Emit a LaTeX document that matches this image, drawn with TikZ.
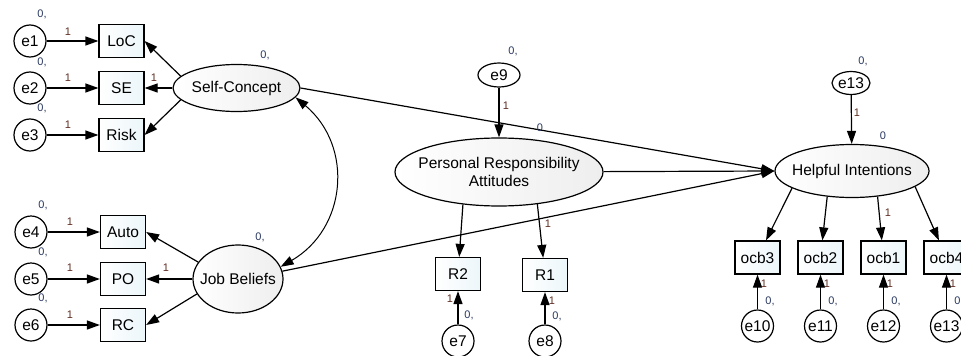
\documentclass[tikz,border=0pt]{standalone}
\usepackage{fontspec}
\setmainfont{Liberation Sans}
\usetikzlibrary{positioning}
\usetikzlibrary{arrows.meta,shapes.geometric}
\definecolor{amosBlue}{RGB}{40,55,95}
\definecolor{amosRed} {RGB}{95,45,35}
\definecolor{amosBox} {RGB}{236,246,250}
\definecolor{amosLat} {RGB}{238,238,238}

\begin{document}
\begin{tikzpicture}
[x=1pt, y=-1pt, line width=1.2pt, >={Triangle[length=13pt,width=9pt]},
  font=\fontsize{15.5}{18}\selectfont,
  latent/.style   = { draw, ellipse, inner sep=0pt, left color=white, right color=amosLat },
  observed/.style = { draw, rectangle, minimum width=45pt, minimum height=33pt, inner sep=0pt,
                      left color=white, right color=amosBox },
  err/.style      = { draw, circle, minimum size=32pt, inner sep=0pt, fill=white },
  errtop/.style   = { draw, ellipse, inner sep=0pt, fill=white },
  mean/.style     = { text=amosBlue, font=\fontsize{11}{12}\selectfont, inner sep=0pt },
  weight/.style   = { text=amosRed, font=\fontsize{11}{12}\selectfont, inner sep=0pt }
]

\useasboundingbox (0,0) rectangle (961,356);

% Latent variables:
\node[latent, minimum width=127pt, minimum height=47pt] (sc)  at (236.5,88) {\makebox[0pt]{Self-Concept}};
\node[latent, minimum width=90pt,  minimum height=68pt] (jb)  at (238,279)  {\makebox[0pt]{Job Beliefs}};
\node[latent, minimum width=208pt, minimum height=68pt, align=center] (pra) at (499,172)
  {\makebox[0pt]{Personal Responsibility}\\\makebox[0pt]{Attitudes}};
\node[latent, minimum width=154pt, minimum height=53pt] (hi)  at (852,171)  {\makebox[0pt]{Helpful Intentions}};

% Indicators:
\node[observed] (loc)  at (121.5,41)  {LoC};
\node[observed] (se)   at (121.5,88)  {SE};
\node[observed] (risk) at (121.5,135) {Risk};
\node[observed] (auto) at (123,232)   {Auto};
\node[observed] (po)   at (123,279)   {PO};
\node[observed] (rc)   at (123,325)   {RC};
\node[observed] (r2)   at (458,274)   {R2};
\node[observed] (r1)   at (545,275)   {R1};
\node[observed] (ocb3) at (757.5,257.5) {ocb3};
\node[observed] (ocb2) at (820.5,257.5) {ocb2};
\node[observed] (ocb1) at (883.5,257.5) {ocb1};
\node[observed] (ocb4) at (946.5,257.5) {ocb4};

% Error terms:
\node[err] (e1)  at (30,41)  {e1};
\node[err] (e2)  at (30,88)  {e2};
\node[err] (e3)  at (30,135) {e3};
\node[err] (e4)  at (31,232) {e4};
\node[err] (e5)  at (31,279) {e5};
\node[err] (e6)  at (31,325) {e6};
\node[err] (e7)  at (458,341) {e7};
\node[err] (e8)  at (545,341) {e8};
\node[err] (e10) at (757.5,326) {e10};
\node[err] (e11) at (820.5,326) {e11};
\node[err] (e12) at (883.5,326) {e12};
\node[err] (e13) at (946.5,326) {e13};
\node[errtop, minimum width=42pt, minimum height=24pt] (e9)    at (499,75) {e9};
\node[errtop, minimum width=38pt, minimum height=23pt] (e13top) at (851,83) {e13};

% Error arrows:
\draw[->] (e1) -- (loc);
\draw[->] (e2) -- (se);
\draw[->] (e3) -- (risk);
\draw[->] (e4) -- (auto);
\draw[->] (e5) -- (po);
\draw[->] (e6) -- (rc);
\draw[->] (e7) -- (r2);
\draw[->] (e8) -- (r1);
\draw[->] (e10) -- (ocb3);
\draw[->] (e11) -- (ocb2);
\draw[->] (e12) -- (ocb1);
\draw[->] (e13) -- (ocb4);
\draw[->] (e9) -- (pra);
\draw[->] (e13top) -- (hi);

% Loadings:
\draw[->] (sc.168) -- (loc.east);
\draw[->] (sc) -- (se);
\draw[->] (sc.192) -- (risk.east);
\draw[->] (jb.157) -- (auto.east);
\draw[->] (jb) -- (po);
\draw[->] (jb.200) -- (rc.east);
\draw[->] (pra.-138) -- (r2);
\draw[->] (pra.-40) -- (r1);
\draw[->] (hi.196) -- (ocb3);
\draw[->] (hi.226) -- (ocb2);
\draw[->] (hi.-45) -- (ocb1);
\draw[->] (hi.-14) -- (ocb4);

% Structural paths:
\draw[->] (sc.east) -- (hi.west);
\draw[->] (pra) -- (hi.west);
\draw[->] (jb.10) -- (hi.west);
\draw[<->, line width=1pt] (sc.-9) to[out=-40, in=30, looseness=1.15] (jb.16);

% Means and intercepts:
\node[mean] (m1)  at (42,14)  {0,};
\node[mean] (m2)  at (42,62)  {0,};
\node[mean] (m3)  at (42,108) {0,};
\node[mean] (m4)  at (43,205) {0,};
\node[mean] (m5)  at (43,252) {0,};
\node[mean] (m6)  at (43,298) {0,};
\node[mean] (msc) at (265,55)  {0,};
\node[mean] (mjb) at (260,237) {0,};
\node[mean] (m9)  at (513,51)  {0,};
\node[mean] (m13top) at (863,61) {0,};
\node[mean] (m7)  at (469,315) {0,};
\node[mean] (m8)  at (557,316) {0,};
\node[mean] (m10) at (770,301) {0,};
\node[mean] (m11) at (833,301) {0,};
\node[mean] (m12) at (896,301) {0,};
\node[mean] (m13) at (959,301) {0,};
\node[mean] (mpra) at (540,128) {0};
\node[mean] (mhi)  at (883,136) {0};

% Fixed weights:
\node[weight] (w1)  at (68,32)   {1};
\node[weight] (w2)  at (68,78)   {1};
\node[weight] (w3)  at (68,125)  {1};
\node[weight] (w4)  at (70,222)  {1};
\node[weight] (w5)  at (70,268)  {1};
\node[weight] (w6)  at (70,315)  {1};
\node[weight] (wse) at (154,78)  {1};
\node[weight] (wpo) at (166,268) {1};
\node[weight] (w9)  at (506,106) {1};
\node[weight] (wr1) at (548,224) {1};
\node[weight] (w7)  at (450,299) {1};
\node[weight] (w8)  at (552,301) {1};
\node[weight] (w13top) at (857,113) {1};
\node[weight] (wocb1)  at (888,213) {1};
\node[weight] (w10) at (764,284) {1};
\node[weight] (w11) at (827,284) {1};
\node[weight] (w12) at (890,284) {1};
\node[weight] (w13) at (953,284) {1};
\end{tikzpicture}
\end{document}
